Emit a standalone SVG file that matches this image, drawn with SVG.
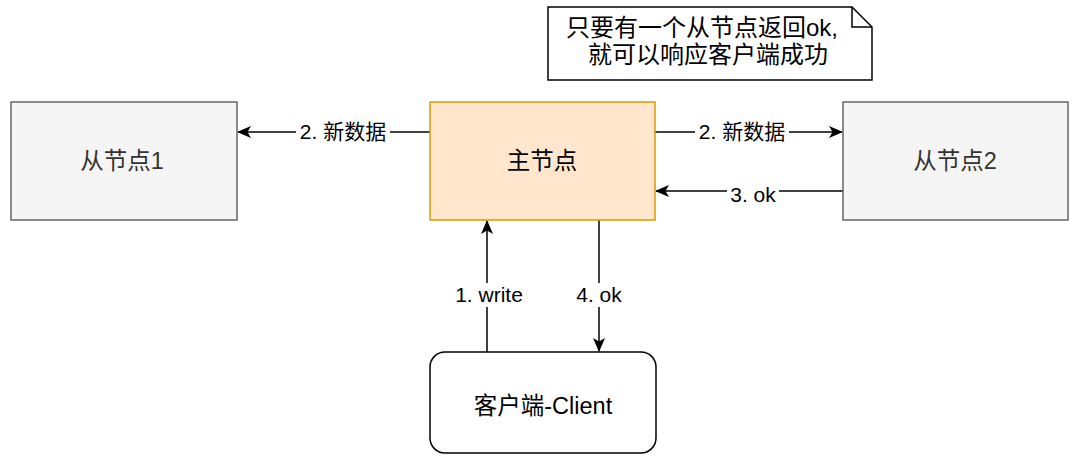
<svg xmlns="http://www.w3.org/2000/svg" width="1078" height="472" viewBox="0 0 1078 472">
<style>
text{font-family:"Liberation Sans","Noto Sans CJK SC",sans-serif;text-anchor:middle}
.node{font-size:23.5px}
.note{font-size:24px}
.lbl{font-size:21px;fill:#000}
.gray{fill:#f5f5f5;stroke:#666;stroke-width:1.5}
.edge{stroke:#000;stroke-width:1.5;fill:none}
.bg{fill:#fff}
</style>
<defs>
<marker id="arr" viewBox="0 0 14 12" refX="13" refY="6" markerWidth="14" markerHeight="12" markerUnits="userSpaceOnUse" orient="auto">
<path d="M0,0 L14,6 L0,12 L3.5,6 Z" fill="#000"/>
</marker>
</defs>
<rect width="1078" height="472" fill="#fff"/>
<g id="connectors">
<path class="edge" d="M430,132 L238,132" marker-end="url(#arr)"/>
<path class="edge" d="M655,132 L842,132" marker-end="url(#arr)"/>
<path class="edge" d="M843,191 L656,191" marker-end="url(#arr)"/>
<path class="edge" d="M487,352 L487,221" marker-end="url(#arr)"/>
<path class="edge" d="M599,220 L599,351" marker-end="url(#arr)"/>
<rect class="bg" x="296" y="120" width="94" height="24"/>
<text class="lbl" x="343" y="139">2. 新数据</text>
<rect class="bg" x="695" y="120" width="94" height="24"/>
<text class="lbl" x="742" y="139">2. 新数据</text>
<rect class="bg" x="727" y="184" width="52" height="22"/>
<text class="lbl" x="753" y="202">3. ok</text>
<rect class="bg" x="451" y="283" width="74" height="24"/>
<text class="lbl" x="489" y="302">1. write</text>
<rect class="bg" x="574" y="283" width="50" height="24"/>
<text class="lbl" x="599" y="302">4. ok</text>
</g>
<g id="note">
<path d="M548,7 L852,7 L872,27 L872,80 L548,80 Z" fill="#fff" stroke="#000" stroke-width="1.5"/>
<path d="M852,7 L852,27 L872,27" fill="none" stroke="#000" stroke-width="1.5"/>
<text class="note" x="702" y="36">只要有一个从节点返回ok,</text>
<text class="note" x="708" y="63">就可以响应客户端成功</text>
</g>
<g id="slave1">
<rect class="gray" x="11" y="102" width="226" height="118"/>
<text class="node" x="122" y="169" fill="#333">从节点1</text>
</g>
<g id="master">
<rect x="430" y="102" width="225" height="118" fill="#ffe6cc" stroke="#d79b00" stroke-width="1.5"/>
<text class="node" x="542" y="169">主节点</text>
</g>
<g id="slave2">
<rect class="gray" x="843" y="102" width="225" height="118"/>
<text class="node" x="955" y="169" fill="#333">从节点2</text>
</g>
<g id="client">
<rect x="430" y="352" width="226" height="101" rx="15" ry="15" fill="#fff" stroke="#000" stroke-width="1.5"/>
<text class="node" x="543" y="414">客户端-Client</text>
</g>
</svg>
